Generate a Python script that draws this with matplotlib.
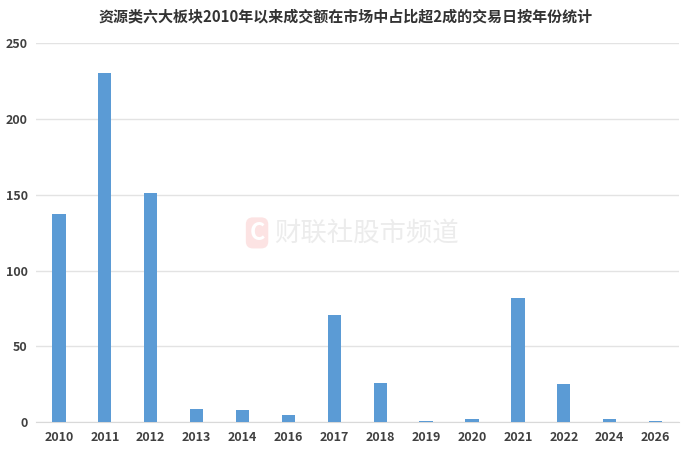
import matplotlib
matplotlib.use("Agg")
from matplotlib import pyplot as plt

plt.rcParams['font.family'] = ['Noto Sans CJK SC', 'DejaVu Sans']

years = ['2010', '2011', '2012', '2013', '2014', '2016', '2017',
         '2018', '2019', '2020', '2021', '2022', '2024', '2026']
days = [137, 230, 151, 9, 8, 5, 71, 26, 1, 2, 82, 25, 2, 1]
yticks = [0, 50, 100, 150, 200, 250]

title = "资源类六大板块2010年以来成交额在市场中占比超2成的交易日按年份统计"

fig = plt.figure(figsize=(6.91, 4.54), dpi=100)
ax = fig.add_axes([0.052, 0.07, 0.93, 0.835])

x = range(len(years))
ax.bar(x, days, width=0.29, color='#5b9bd5', zorder=3)

ax.set_xlim(-0.5, len(years) - 0.5)
ax.set_ylim(0, 250)
ax.set_yticks(yticks)
ax.set_xticks(list(x))
ax.set_xticklabels(years)
ax.grid(axis='y', color='#e3e3e3', linewidth=1, zorder=0)
ax.tick_params(length=0, labelsize=9, labelcolor='#404040', pad=6)
for lbl in ax.get_xticklabels() + ax.get_yticklabels():
    lbl.set_fontweight('bold')
for side in ['top', 'right', 'left']:
    ax.spines[side].set_visible(False)
ax.spines['bottom'].set_color('#d9d9d9')

fig.text(0.5, 0.963, title, ha='center', va='center', fontsize=10.8,
         fontweight='bold', color='#333333')

# watermark
fig.text(0.372, 0.487, 'C', ha='center', va='center', fontsize=17,
         fontweight='bold', color='white',
         bbox=dict(boxstyle='round,pad=0.15,rounding_size=0.3',
                   fc='#fce3e3', ec='none'))
fig.text(0.396, 0.487, '财联社股市频道', ha='left', va='center',
         fontsize=19, color='#ececec')

fig.savefig('out.png', dpi=100)
